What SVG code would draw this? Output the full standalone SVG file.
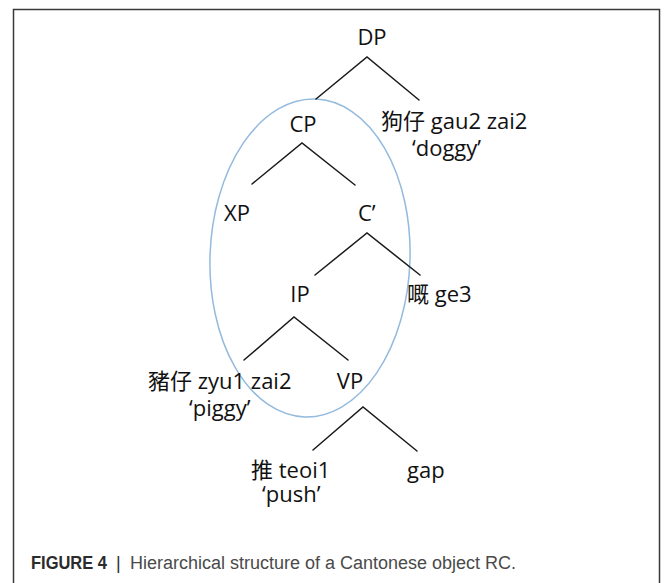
<svg xmlns="http://www.w3.org/2000/svg" width="672" height="583" viewBox="0 0 672 583">
<style>
.t{font-family:"Open Sans","Noto Sans CJK TC",sans-serif;font-size:22px;fill:#111}
.m{text-anchor:middle}
.e{stroke:#1a1a1a;stroke-width:1.5;fill:none;stroke-linecap:round}
.cap{font-family:"Liberation Sans",Arial,sans-serif;font-size:18px}
</style>
<rect x="13.5" y="9.5" width="646" height="600" fill="#fff" stroke="#3a3a3a" stroke-width="1.5"/>
<ellipse id="rc-circle" cx="310" cy="258" rx="100" ry="159" transform="rotate(2 310 258)" fill="none" stroke="#94badd" stroke-width="1.5"/>
<g id="connectors">
<path class="e" d="M316,99 L367,57 L419,100"/>
<path class="e" d="M252,184 L302,143 L355,185"/>
<path class="e" d="M315,275 L367,233 L420,275"/>
<path class="e" d="M244,360 L294,317 L348,360"/>
<path class="e" d="M313,450 L363,407 L417,451"/>
</g>
<g id="DP"><text class="t m" x="372" y="45">DP</text></g>
<g id="CP"><text class="t m" x="303" y="132">CP</text></g>
<g id="doggy"><text class="t" x="381" y="129">狗仔 gau2 zai2</text><text class="t" x="412" y="156">‘doggy’</text></g>
<g id="XP"><text class="t m" x="237" y="221">XP</text></g>
<g id="Cbar"><text class="t" x="358" y="221">C’</text></g>
<g id="IP"><text class="t m" x="300" y="302">IP</text></g>
<g id="ge3"><text class="t" x="407" y="302">嘅 ge3</text></g>
<g id="piggy"><text class="t" x="148" y="389">豬仔 zyu1 zai2</text><text class="t" x="189" y="416">‘piggy’</text></g>
<g id="VP"><text class="t m" x="350" y="389">VP</text></g>
<g id="push"><text class="t" x="251" y="478">推 teoi1</text><text class="t" x="262" y="502">‘push’</text></g>
<g id="gap"><text class="t" x="407" y="478">gap</text></g>
<g id="caption"><text class="cap" x="31" y="569"><tspan font-weight="bold" fill="#2b2b2b" textLength="76" lengthAdjust="spacingAndGlyphs">FIGURE 4</tspan><tspan fill="#2b2b2b" x="116">|</tspan><tspan fill="#4a4a4a" x="130" textLength="386" lengthAdjust="spacingAndGlyphs">Hierarchical structure of a Cantonese object RC.</tspan></text></g>
</svg>
